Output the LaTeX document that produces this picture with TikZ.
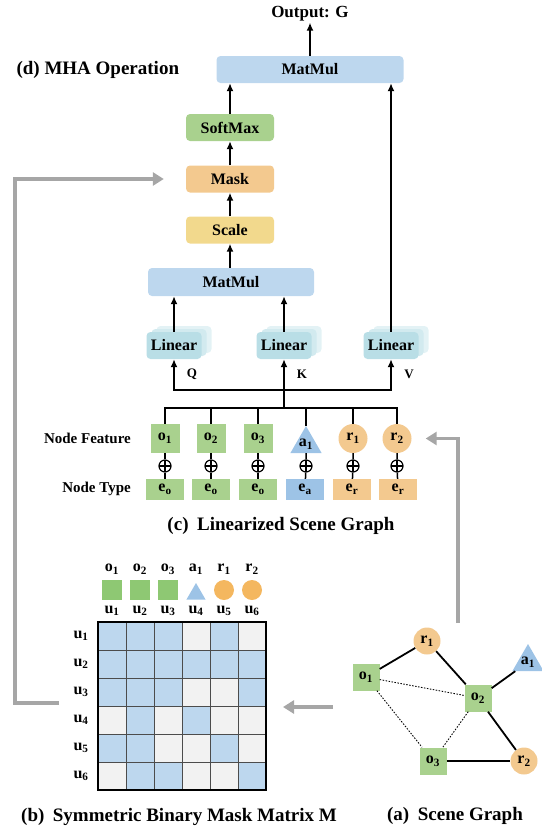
\documentclass[tikz,border=0pt]{standalone}
\usepackage{fontspec}
\setmainfont{Liberation Serif}
\usetikzlibrary{arrows.meta,shapes.geometric}

\definecolor{matblue}{HTML}{BDD7EE}
\definecolor{softgreen}{HTML}{A9D18E}
\definecolor{maskorange}{HTML}{F3C98F}
\definecolor{scaleyellow}{HTML}{F2D98D}
\definecolor{lincyan}{HTML}{B9DEE6}
\definecolor{attrblue}{HTML}{9DC3E6}
\definecolor{cellgray}{HTML}{F2F2F2}
\definecolor{arrowgray}{HTML}{A6A6A6}
\definecolor{leggreen}{HTML}{8EC873}
\definecolor{legorange}{HTML}{F4B75F}

\tikzset{
	box/.style={rounded corners=4pt, minimum height=27pt, inner sep=0pt,
		font=\fontsize{16}{18}\selectfont\bfseries},
	linbox/.style={box, fill=lincyan, minimum width=55pt},
	title/.style={font=\fontsize{19}{22}\selectfont\bfseries},
	lbl/.style={font=\fontsize{16}{18}\selectfont\bfseries, inner sep=1pt},
	small/.style={font=\fontsize{13}{15}\selectfont\bfseries},
	objsq/.style={lbl, fill=softgreen, minimum size=29pt, inner sep=0pt},
	relc/.style={lbl, circle, fill=maskorange, minimum size=29pt, inner sep=0pt},
	attrtri/.style={regular polygon, regular polygon sides=3, fill=attrblue,
		inner sep=0pt, minimum size=36pt},
	typebox/.style={lbl, minimum width=38pt, minimum height=21pt, inner sep=0pt},
	plus/.style={circle, draw, line width=1.2pt, fill=white, minimum size=12pt,
		inner sep=0pt, path picture={\draw[line width=1.2pt]
			(path picture bounding box.north) -- (path picture bounding box.south)
			(path picture bounding box.west) -- (path picture bounding box.east);}},
	line/.style={line width=1.5pt},
	arr/.style={line, -{Latex[length=8pt,width=7pt]}},
	grayarr/.style={draw=arrowgray, line width=3.5pt,
		-{Triangle[length=11pt,width=13pt]}},
	edge/.style={line width=1.8pt},
	dotedge/.style={line width=0.9pt, dash pattern=on 1.5pt off 1.5pt},
	cell/.style={draw=black!70, line width=0.6pt},
}

\begin{document}
\begin{tikzpicture}[x=1pt,y=-1pt]
	\useasboundingbox (0,0) rectangle (541,830);

	% (d) MHA Operation
	\node[title, anchor=west] (tD) at (13,70) {(d) MHA Operation};
	\node[box, fill=matblue, minimum width=187pt] (mmTop) at (310,69.5) {MatMul};
	\node[lbl, font=\fontsize{17}{19}\selectfont\bfseries] (out) at (310,14) {Output: G};
	\node[box, fill=softgreen, minimum width=88pt] (soft) at (230,127.5) {SoftMax};
	\node[box, fill=maskorange, minimum width=88pt] (mask) at (230,179) {Mask};
	\node[box, fill=scaleyellow, minimum width=88pt] (scale) at (230,230) {Scale};
	\node[box, fill=matblue, minimum width=166pt, minimum height=28pt] (mmLow) at (231,282) {MatMul};
	\foreach \x in {174,284,391} {
		\fill[lincyan!40, rounded corners=4pt] (\x-17.5,326) rectangle ++(55,27);
		\fill[lincyan!65, rounded corners=4pt] (\x-22.5,329) rectangle ++(55,27);
	}
	\node[linbox] (linQ) at (174,345.5) {Linear};
	\node[linbox] (linK) at (284,345.5) {Linear};
	\node[linbox] (linV) at (391,345.5) {Linear};

	\draw[arr] (mmTop.north -| out) -- (out);
	\draw[arr] (soft) -- (soft |- mmTop.south);
	\draw[arr] (mask) -- (soft);
	\draw[arr] (scale) -- (mask);
	\draw[arr] (scale |- mmLow.north) -- (scale);
	\draw[arr] (linQ) -- (linQ |- mmLow.south);
	\draw[arr] (linK) -- (linK |- mmLow.south);
	\draw[arr] (linV) -- (linV |- mmTop.south);

	\node[small] (q) at (192,374) {Q};
	\node[small] (k) at (302,374) {K};
	\node[small] (v) at (409,374) {V};

	% (c) linearized scene graph
	\coordinate (busL) at (284,390);
	\coordinate (busF) at (284,408);
	\draw[arr] (busL) -| (linQ);
	\draw[arr] (busL) -| (linV);
	\draw[arr] (busL) -- (linK);
	\draw[line] (busF) -- (busL);

	\node[objsq] (fo1) at (165,438.5) {o\textsubscript{1}};
	\node[objsq] (fo2) at (211,438.5) {o\textsubscript{2}};
	\node[objsq] (fo3) at (258,438.5) {o\textsubscript{3}};
	\node[attrtri, label={[lbl]center:a\textsubscript{1}}] (fa1) at (306,444) {};
	\node[relc] (fr1) at (353,438.5) {r\textsubscript{1}};
	\node[relc] (fr2) at (397,438.5) {r\textsubscript{2}};
	\node[typebox, fill=softgreen] (to1) at (165,489.5) {e\textsubscript{o}};
	\node[typebox, fill=softgreen] (to2) at (211,489.5) {e\textsubscript{o}};
	\node[typebox, fill=softgreen] (to3) at (258,489.5) {e\textsubscript{o}};
	\node[typebox, fill=attrblue] (ta1) at (305,489.5) {e\textsubscript{a}};
	\node[typebox, fill=maskorange] (tr1) at (352,489.5) {e\textsubscript{r}};
	\node[typebox, fill=maskorange] (tr2) at (398,489.5) {e\textsubscript{r}};
	\foreach \f/\t/\x in {fo1/to1/165,fo2/to2/211,fo3/to3/258,fa1/ta1/306,fr1/tr1/353,fr2/tr2/397} {
		\node[plus] (p\f) at (\x,466) {};
		\draw[line] (\f) -- (p\f) -- (\t);
		\draw[line] (\f) |- (busF);
	}
	\node[lbl, font=\fontsize{15}{17}\selectfont\bfseries, anchor=east] (featLbl) at (132,438) {Node Feature};
	\node[lbl, font=\fontsize{15}{17}\selectfont\bfseries, anchor=east] (typeLbl) at (132,489) {Node Type};
	\node[title] (tC) at (281,526) {(c)\hspace{0.45em}Linearized Scene Graph};

	% (b) mask matrix
	\foreach \rowvals [count=\r] in {{1,1,1,0,1,0},{1,1,1,1,1,1},{1,1,1,0,0,1},{0,1,0,1,0,0},{1,1,0,0,1,0},{0,1,1,0,0,1}} {
		\foreach \v [count=\c] in \rowvals {
			\ifnum\v=1 \def\cellcol{matblue}\else\def\cellcol{cellgray}\fi
			\draw[cell, fill=\cellcol] ({98+28*(\c-1)},{622+28*(\r-1)}) rectangle ++(28,28);
		}
	}
	\draw[line width=1.6pt] (98,622) rectangle (266,790);
	\foreach \i in {1,...,6} {
		\node[lbl] (row\i) at (81,{636+28*(\i-1)}) {u\textsubscript{\i}};
		\node[lbl] (col\i) at ({112+28*(\i-1)},611) {u\textsubscript{\i}};
	}
	\foreach \i in {1,2,3} {
		\node[fill=leggreen, minimum size=20pt, inner sep=0pt] (leg\i) at ({112+28*(\i-1)},590) {};
		\node[lbl] (legt\i) at ({112+28*(\i-1)},569) {o\textsubscript{\i}};
	}
	\node[regular polygon, regular polygon sides=3, fill=attrblue, inner sep=0pt, minimum size=22pt] (leg4) at (196,594) {};
	\node[circle, fill=legorange, minimum size=20pt, inner sep=0pt] (leg5) at (224,590) {};
	\node[circle, fill=legorange, minimum size=20pt, inner sep=0pt] (leg6) at (252,590) {};
	\node[lbl] (legt4) at (196,569) {a\textsubscript{1}};
	\node[lbl] (legt5) at (224,569) {r\textsubscript{1}};
	\node[lbl] (legt6) at (252,569) {r\textsubscript{2}};
	\node[title] (tB) at (179,817) {(b)\hspace{0.45em}Symmetric Binary Mask Matrix M};

	% (a) scene graph
	\node[objsq, minimum size=27pt] (o1) at (366,677) {o\textsubscript{1}};
	\node[relc, minimum size=27pt] (r1) at (427,641) {r\textsubscript{1}};
	\node[attrtri, label={[lbl]center:a\textsubscript{1}}] (a1) at (528,662) {};
	\node[objsq, minimum size=27pt] (o2) at (478,698) {o\textsubscript{2}};
	\node[objsq, minimum size=27pt] (o3) at (433,761) {o\textsubscript{3}};
	\node[relc, minimum size=27pt] (r2) at (524,761) {r\textsubscript{2}};
	\draw[edge] (o1) -- (r1);
	\draw[edge] (r1) -- (o2);
	\draw[edge] (o2) -- (a1);
	\draw[edge] (o2) -- (r2);
	\draw[edge] (o3) -- (r2);
	\draw[dotedge] (o1) -- (o2);
	\draw[dotedge] (o1) -- (o3);
	\draw[dotedge] (o2) -- (o3);
	\node[title] (tA) at (455,816) {(a)\hspace{0.45em}Scene Graph};

	% gray feedback arrows
	\coordinate (gStart) at (59,703);
	\coordinate (gCorner) at (15,179);
	\draw[grayarr] (gStart) -| (gCorner) -- ([xshift=-22pt]mask.west);
	\coordinate (gB1) at (333,707);
	\coordinate (gB2) at (283,707);
	\draw[grayarr] (gB1) -- (gB2);
	\coordinate (gC) at (458,623);
	\draw[grayarr] (gC) |- ([xshift=14pt]fr2.east);
\end{tikzpicture}
\end{document}
